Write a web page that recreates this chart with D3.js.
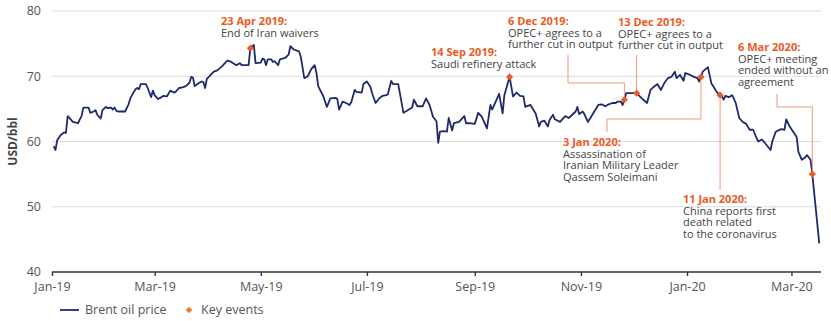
<!DOCTYPE html>
<html>
<head>
<meta charset="utf-8">
<script src="https://cdn.jsdelivr.net/npm/d3@7"></script>
<style>
body { margin: 0; background: #fff; }
text { font-family: "Open Sans", sans-serif; }
</style>
</head>
<body>
<svg id="chart" width="831" height="321"></svg>
<script>
// Brent oil price, USD/bbl
var priceDates = [
  "2019-01-02","2019-01-03","2019-01-04","2019-01-06","2019-01-08","2019-01-09","2019-01-10","2019-01-12","2019-01-13","2019-01-16",
  "2019-01-17","2019-01-18","2019-01-19","2019-01-22","2019-01-23","2019-01-25","2019-01-26","2019-01-27","2019-01-29","2019-01-30",
  "2019-02-01","2019-02-02","2019-02-04","2019-02-05","2019-02-06","2019-02-07","2019-02-08","2019-02-12","2019-02-14","2019-02-15",
  "2019-02-17","2019-02-18","2019-02-19","2019-02-20","2019-02-21","2019-02-24","2019-02-25","2019-02-27","2019-02-28","2019-03-01",
  "2019-03-03","2019-03-05","2019-03-06","2019-03-08","2019-03-10","2019-03-12","2019-03-13","2019-03-15","2019-03-17","2019-03-19",
  "2019-03-21","2019-03-22","2019-03-23","2019-03-24","2019-03-26","2019-03-28","2019-03-29","2019-03-30","2019-03-31","2019-04-04",
  "2019-04-06","2019-04-09","2019-04-11","2019-04-12","2019-04-14","2019-04-17","2019-04-19","2019-04-20","2019-04-24","2019-04-25",
  "2019-04-27","2019-04-28","2019-05-01","2019-05-02","2019-05-03","2019-05-04","2019-05-05","2019-05-07","2019-05-08","2019-05-09",
  "2019-05-11","2019-05-12","2019-05-15","2019-05-17","2019-05-18","2019-05-20","2019-05-23","2019-05-24","2019-05-26","2019-05-28",
  "2019-05-30","2019-06-01","2019-06-02","2019-06-03","2019-06-06","2019-06-08","2019-06-10","2019-06-13","2019-06-14","2019-06-15",
  "2019-06-17","2019-06-19","2019-06-21","2019-06-22","2019-06-24","2019-06-25","2019-06-28","2019-06-29","2019-07-01","2019-07-03",
  "2019-07-04","2019-07-06","2019-07-08","2019-07-10","2019-07-12","2019-07-13","2019-07-15","2019-07-16","2019-07-19","2019-07-22",
  "2019-07-24","2019-07-27","2019-07-28","2019-07-30","2019-08-02","2019-08-04","2019-08-06","2019-08-08","2019-08-10","2019-08-11",
  "2019-08-12","2019-08-14","2019-08-16","2019-08-17","2019-08-19","2019-08-20","2019-08-23","2019-08-24","2019-08-26","2019-08-27",
  "2019-08-29","2019-09-01","2019-09-03","2019-09-05","2019-09-08","2019-09-10","2019-09-11","2019-09-15","2019-09-17","2019-09-18",
  "2019-09-21","2019-09-23","2019-09-25","2019-09-27","2019-09-29","2019-09-30","2019-10-03","2019-10-06","2019-10-08","2019-10-09",
  "2019-10-11","2019-10-13","2019-10-14","2019-10-16","2019-10-17","2019-10-20","2019-10-23","2019-10-25","2019-10-27","2019-10-29",
  "2019-10-30","2019-10-31","2019-11-02","2019-11-03","2019-11-05","2019-11-08","2019-11-11","2019-11-13","2019-11-15","2019-11-17",
  "2019-11-19","2019-11-21","2019-11-22","2019-11-24","2019-11-25","2019-11-26","2019-11-27","2019-11-30","2019-12-03","2019-12-06",
  "2019-12-09","2019-12-11","2019-12-13","2019-12-15","2019-12-17","2019-12-19","2019-12-21","2019-12-23","2019-12-25","2019-12-26",
  "2019-12-28","2019-12-30","2019-12-31","2020-01-02","2020-01-05","2020-01-07","2020-01-08","2020-01-09","2020-01-10","2020-01-13",
  "2020-01-15","2020-01-16","2020-01-18","2020-01-20","2020-01-21","2020-01-22","2020-01-23","2020-01-25","2020-01-27","2020-01-29",
  "2020-01-31","2020-02-02","2020-02-04","2020-02-06","2020-02-08","2020-02-10","2020-02-11","2020-02-13","2020-02-15","2020-02-18",
  "2020-02-19","2020-02-21","2020-02-24","2020-02-26","2020-02-27","2020-02-29","2020-03-02","2020-03-04","2020-03-05","2020-03-07",
  "2020-03-09","2020-03-10","2020-03-12","2020-03-13","2020-03-17"
];
var priceValues = [
  59.3,58.7,60.2,61.0,61.4,61.3,63.9,63.3,63.0,62.8,
  63.4,63.9,65.2,65.2,64.4,64.6,64.8,64.1,63.5,64.8,
  65.3,65.1,65.2,64.9,65.2,64.7,64.6,64.6,65.7,66.6,
  67.6,68.0,68.2,68.0,68.8,68.8,68.2,66.8,67.8,67.1,
  66.5,66.8,67.0,66.9,67.8,67.5,67.6,68.2,68.3,68.5,
  69.0,69.9,69.8,68.5,68.9,69.2,69.1,68.2,69.6,70.7,
  70.9,71.6,72.2,72.4,72.2,71.7,72.0,71.7,71.7,74.3,
  74.8,72.0,72.1,72.7,72.6,71.7,72.6,72.6,72.2,72.3,
  71.7,72.6,72.8,73.3,74.6,74.1,73.8,73.0,69.7,70.0,
  71.1,71.7,70.5,68.5,66.9,65.3,66.6,66.7,66.5,64.9,
  66.1,65.9,65.6,66.0,67.9,67.6,67.5,68.8,69.2,68.4,
  67.4,65.9,66.6,67.0,67.1,67.2,69.3,68.8,68.8,64.4,
  64.7,65.2,66.4,65.4,65.4,66.6,65.6,63.8,63.1,59.8,
  61.5,61.6,61.5,63.6,61.7,62.8,63.0,63.3,63.9,62.8,
  62.8,62.7,64.4,63.8,62.0,65.6,64.9,67.3,64.3,67.1,
  69.9,66.9,67.5,67.0,66.9,65.3,65.6,64.3,62.3,63.0,
  63.2,62.3,63.3,64.1,63.4,63.0,63.9,63.6,64.1,64.6,
  65.3,64.2,64.6,64.2,63.0,64.3,65.6,65.7,65.4,65.7,
  65.9,65.9,66.1,66.1,65.6,66.4,67.4,67.4,67.4,66.6,
  65.9,67.9,68.4,68.8,67.9,69.0,69.7,69.9,70.7,69.7,
  70.2,69.3,70.5,70.3,69.9,69.7,69.2,69.9,70.7,71.4,
  68.9,68.5,67.6,67.1,67.0,66.4,67.0,66.8,67.1,65.9,
  63.6,63.0,62.7,61.8,61.8,60.5,60.0,60.3,59.7,58.7,
  60.0,61.5,61.9,61.8,63.4,62.3,61.5,60.7,58.4,57.2,
  57.6,57.9,57.2,55.0,44.4
];

// key events (marker date/value as placed in the picture)
var eventTitles = ["23 Apr 2019:", "14 Sep 2019:", "6 Dec 2019:", "13 Dec 2019:", "3 Jan 2020:", "11 Jan 2020:", "6 Mar 2020:"];
var eventNotes = [
  ["End of Iran waivers"],
  ["Saudi refinery attack"],
  ["OPEC+ agrees to a", "further cut in output"],
  ["OPEC+ agrees to a", "further cut in output"],
  ["Assassination of", "Iranian Military Leader", "Qassem Soleimani"],
  ["China reports first", "death related", "to the coronavirus"],
  ["OPEC+ meeting", "ended without an", "agreement"]
];
var eventDates = ["2019-04-25", "2019-09-21", "2019-11-26", "2019-12-03", "2020-01-09", "2020-01-20", "2020-03-13"];
var eventValues = [74.3, 69.9, 66.4, 67.4, 69.9, 67.1, 55.0];

var yTicks = [40, 50, 60, 70, 80];
var xTickDates = ["2019-01-01", "2019-03-01", "2019-05-01", "2019-07-01", "2019-09-01", "2019-11-01", "2020-01-01", "2020-03-01"];
var legendLabels = ["Brent oil price", "Key events"];

var parse = d3.timeParse("%Y-%m-%d");
var navy = "#1f2a6c", orange = "#ee5a24", leaderCol = "#f3977a";

var svg = d3.select("#chart");

var x = d3.scaleTime()
    .domain([parse("2019-01-01"), parse("2020-03-18")])
    .range([52, 821]);
var y = d3.scaleLinear()
    .domain([40, 80])
    .range([272, 11]);

// gridlines
svg.append("g").selectAll("line")
    .data(yTicks.slice(1))
    .enter().append("line")
    .attr("x1", 52).attr("x2", 821)
    .attr("y1", function (d) { return y(d); })
    .attr("y2", function (d) { return y(d); })
    .attr("stroke", "#dcdcdc")
    .attr("stroke-width", 1);

// y labels
svg.append("g").selectAll("text")
    .data(yTicks)
    .enter().append("text")
    .attr("x", 41)
    .attr("y", function (d) { return y(d); })
    .attr("dy", ".35em")
    .attr("text-anchor", "end")
    .style("font-size", "12.5px")
    .style("fill", "#555")
    .text(function (d) { return d; });

svg.append("text")
    .attr("transform", "translate(17," + y(60) + ") rotate(-90)")
    .attr("text-anchor", "middle")
    .style("font-size", "12px")
    .style("font-weight", "bold")
    .style("fill", "#444")
    .text("USD/bbl");

// x axis
var xAxis = d3.axisBottom(x)
    .tickValues(xTickDates.map(parse))
    .tickFormat(d3.timeFormat("%b-%y"))
    .tickSize(4)
    .tickPadding(6);
var gx = svg.append("g")
    .attr("transform", "translate(0," + y(40) + ")")
    .call(xAxis);
gx.select(".domain").attr("stroke", "#333").attr("stroke-width", 1.6).attr("d", "M52,0H821");
gx.selectAll(".tick line").attr("stroke", "#333").attr("stroke-width", 1.4);
gx.selectAll(".tick text")
    .style("font-family", "\"Open Sans\", sans-serif")
    .style("font-size", "12.5px")
    .style("fill", "#555");

// price line
var series = priceDates.map(function (d, i) { return { date: parse(d), value: priceValues[i] }; });
var line = d3.line()
    .x(function (d) { return x(d.date); })
    .y(function (d) { return y(d.value); });
svg.append("path")
    .datum(series)
    .attr("d", line)
    .attr("fill", "none")
    .attr("stroke", navy)
    .attr("stroke-width", 1.8)
    .attr("stroke-linejoin", "round");

// annotations: label position and leader shape (fromX, fromY, elbowY)
var annoPos = [
    { x: 221, y: 25 },
    { x: 431, y: 56 },
    { x: 508, y: 25, leader: [568, 55, 83] },
    { x: 618, y: 26, leader: [null, 55, null] },
    { x: 563, y: 146, leader: [607, 132, 119] },
    { x: 683, y: 203, leader: [null, 190, null] },
    { x: 738, y: 51, leader: [777, 94, 107] }
];

var events = eventDates.map(function (d, i) {
    return { date: parse(d), value: eventValues[i], title: eventTitles[i], notes: eventNotes[i], pos: annoPos[i] };
});

events.forEach(function (e) {
    var mx = x(e.date), my = y(e.value);
    if (e.pos.leader) {
        var fx = e.pos.leader[0] == null ? mx : e.pos.leader[0],
            fy = e.pos.leader[1],
            ey = e.pos.leader[2] == null ? fy : e.pos.leader[2];
        svg.append("path")
            .attr("d", "M" + fx + "," + fy + "V" + ey + "H" + mx + "V" + my)
            .attr("fill", "none")
            .attr("stroke", leaderCol)
            .attr("stroke-width", 1);
    }
    var t = svg.append("text")
        .attr("x", e.pos.x)
        .attr("y", e.pos.y)
        .style("font-size", "11px");
    t.append("tspan")
        .attr("x", e.pos.x)
        .style("font-weight", "bold")
        .style("fill", orange)
        .text(e.title);
    e.notes.forEach(function (n) {
        t.append("tspan")
            .attr("x", e.pos.x)
            .attr("dy", 11.5)
            .style("fill", "#444")
            .text(n);
    });
});

// markers
svg.append("g").selectAll("path")
    .data(events)
    .enter().append("path")
    .attr("d", d3.symbol().type(d3.symbolSquare).size(26))
    .attr("transform", function (d) { return "translate(" + x(d.date) + "," + y(d.value) + ") rotate(45)"; })
    .attr("fill", orange);

// legend
var lg = svg.append("g").attr("transform", "translate(0,310)");
lg.append("line")
    .attr("x1", 60).attr("x2", 79)
    .attr("stroke", navy).attr("stroke-width", 1.8);
lg.append("text")
    .attr("x", 85).attr("dy", ".35em")
    .style("font-size", "12.5px").style("fill", "#555")
    .text(legendLabels[0]);
lg.append("path")
    .attr("d", d3.symbol().type(d3.symbolSquare).size(22))
    .attr("transform", "translate(189,0) rotate(45)")
    .attr("fill", "#f07a30");
lg.append("text")
    .attr("x", 201).attr("dy", ".35em")
    .style("font-size", "12.5px").style("fill", "#555")
    .text(legendLabels[1]);
</script>
</body>
</html>
